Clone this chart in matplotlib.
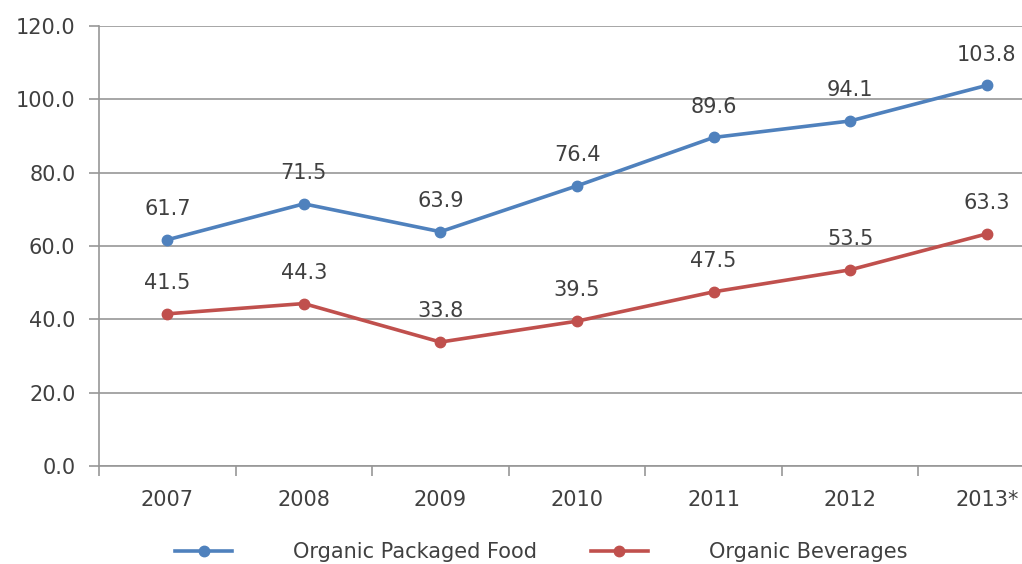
import matplotlib.pyplot as plt
import numpy as np

years = ['2007', '2008', '2009', '2010', '2011', '2012', '2013*']
packaged_food = [61.7, 71.5, 63.9, 76.4, 89.6, 94.1, 103.8]
beverages = [41.5, 44.3, 33.8, 39.5, 47.5, 53.5, 63.3]
y_ticks = [0, 20, 40, 60, 80, 100, 120]

blue = '#4F81BD'
red = '#C0504D'
grid_col = '#979797'
text_col = '#404040'

plt.rcParams['font.family'] = ['DejaVu Sans']
fs = 15

fig = plt.figure(figsize=(10.22, 5.64), dpi=100)
ax = fig.add_axes([99 / 1022, 98 / 564, 956 / 1022, 440 / 564])

x = np.arange(len(years))
ax.plot(x, packaged_food, color=blue, lw=2.6, marker='o', ms=7.5, label='Organic Packaged Food')
ax.plot(x, beverages, color=red, lw=2.6, marker='o', ms=7.5, label='Organic Beverages')

# data labels above each point
for xi, v in zip(x, packaged_food):
    ax.annotate(f'{v:.1f}', (xi, v), xytext=(0, 15), textcoords='offset points',
                ha='center', va='bottom', fontsize=fs, color=text_col)
for xi, v in zip(x, beverages):
    ax.annotate(f'{v:.1f}', (xi, v), xytext=(0, 15), textcoords='offset points',
                ha='center', va='bottom', fontsize=fs, color=text_col)

ax.set_xlim(-0.5, len(years) - 0.5)
ax.set_ylim(0, 120)
ax.set_yticks(y_ticks)
ax.set_yticklabels([f'{t:.1f}' for t in y_ticks])
ax.set_xticks(x)
ax.set_xticklabels(years)
ax.set_xticks(np.arange(len(years)) - 0.5, minor=True)
ax.tick_params(axis='x', which='major', length=0, pad=17, labelsize=fs, labelcolor=text_col)
ax.tick_params(axis='x', which='minor', length=7, width=1.2, color=grid_col)
ax.tick_params(axis='y', length=7, width=1.2, color=grid_col, pad=10, labelsize=fs, labelcolor=text_col)

ax.grid(axis='y', color=grid_col, lw=1.2)
ax.set_axisbelow(True)
for s in ['top', 'right']:
    ax.spines[s].set_visible(False)
for s in ['left', 'bottom']:
    ax.spines[s].set_color(grid_col)
    ax.spines[s].set_linewidth(1.2)

fig.legend(loc='center', bbox_to_anchor=(541 / 1022, 12 / 564), ncol=2, frameon=False,
           fontsize=fs, handlelength=2.75, handletextpad=2.9, columnspacing=2.6,
           labelcolor=text_col)

fig.savefig('out.png', dpi=100)
